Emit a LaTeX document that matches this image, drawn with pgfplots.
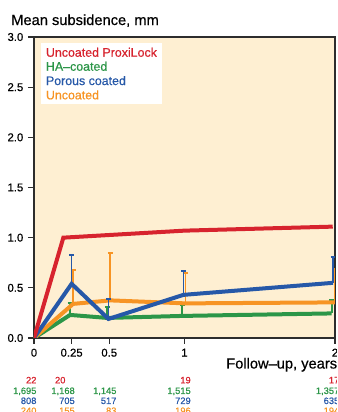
\documentclass[border=0pt]{standalone}
\usepackage{pgfplots}
\pgfplotsset{compat=1.18}
\usepackage{fontspec}
\setmainfont{Liberation Sans}[FakeBold=0.5]
\newfontfamily\medfont{Liberation Sans}[FakeBold=0.5]
\definecolor{cred}{RGB}{215,35,46}
\definecolor{cgreen}{RGB}{44,150,72}
\definecolor{cblue}{RGB}{38,88,168}
\definecolor{corange}{RGB}{247,148,36}
\definecolor{bg}{RGB}{254,239,210}
\definecolor{frame}{RGB}{45,45,45}

\pgfplotstableread{
x y e
0 0 0
0.24 0.23 0.12
0.487 0.20 0.11
0.985 0.22 0.11
1.978 0.245 0.135
}\greendata
\pgfplotstableread{
x y e
0 0 0
0.26 0.34 0.34
0.507 0.375 0.475
1.006 0.345 0.30
2.0 0.355 0.335
}\orangedata
\pgfplotstableread{
x y e
0 0 0
0.25 0.54 0.285
0.495 0.19 0.20
0.993 0.43 0.235
1.987 0.55 0.26
}\bluedata
\pgfplotstableread{
x y
0 0
0.195 1.0
1.0 1.07
1.985 1.11
}\reddata

\begin{document}
\begin{tikzpicture}
\useasboundingbox (0pt,0pt) rectangle (252.75pt,309pt);
\clip (0pt,0pt) rectangle (252.75pt,309pt);
\begin{axis}[
  at={(25.5pt,55.5pt)}, anchor=south west,
  scale only axis, width=225.75pt, height=225.75pt,
  xmin=0, xmax=2, ymin=0, ymax=3,
  axis background/.style={fill=bg},
  axis line style={frame, line width=0.9pt},
  xtick={0,0.25,0.5,1,2}, xticklabels={0,0.25,0.5,1,2},
  ytick={0,0.5,1,1.5,2,2.5,3}, yticklabels={0.0,0.5,1.0,1.5,2.0,2.5,3.0},
  tick align=outside, major tick length=4.5pt,
  tick style={frame, line width=0.8pt},
  xtick pos=bottom, ytick pos=left,
  ticklabel style={font=\medfont\fontsize{8.5}{10}\selectfont},
  error bars/error bar style={line width=1.3pt},
  error bars/error mark options={rotate=90, mark size=1.8pt, line width=1.8pt},
]
\addplot[cgreen, line width=3pt, error bars/.cd, y dir=plus, y explicit] table[x=x,y=y,y error=e]{\greendata};
\addplot[corange, line width=3pt, error bars/.cd, y dir=plus, y explicit] table[x=x,y=y,y error=e]{\orangedata};
\addplot[cblue, line width=3pt, error bars/.cd, y dir=plus, y explicit] table[x=x,y=y,y error=e]{\bluedata};
\addplot[cred, line width=3pt] table[x=x,y=y]{\reddata};
\end{axis}
\begin{scope}[x=0.75pt,y=0.75pt]
% title
\node[anchor=base west, inner sep=0, font=\medfont\fontsize{11}{13}\selectfont] at (11,412-25) {Mean subsidence, mm};
% legend
\fill[white] (40.7,412-43.3) rectangle (161.7,412-104);
\begin{scope}[every node/.style={anchor=west, inner sep=0, font=\medfont\fontsize{9.3}{11}\selectfont}]
\node[text=cred] at (45.7,412-52.3) {Uncoated ProxiLock};
\node[text=cgreen] at (45.7,412-66.3) {HA–coated};
\node[text=cblue] at (45.7,412-80.6) {Porous coated};
\node[text=corange] at (45.7,412-94.9) {Uncoated};
\end{scope}
% x label
\node[anchor=base west, inner sep=0, font=\medfont\fontsize{11}{13}\selectfont] at (226,412-368.5) {Follow–up, years};
% counts
\begin{scope}[every node/.style={anchor=base east, inner sep=0, font=\medfont\fontsize{7}{8}\selectfont}]
\node[text=cred] at (36.7,412-383.4) {22};
\node[text=cred] at (65.7,412-383.4) {20};
\node[text=cred] at (191,412-383.4) {19};
\node[text=cred] at (339.5,412-383.4) {17};
\node[text=cgreen] at (36.7,412-394) {1,695};
\node[text=cgreen] at (75,412-394) {1,168};
\node[text=cgreen] at (116.7,412-394) {1,145};
\node[text=cgreen] at (191,412-394) {1,515};
\node[text=cgreen] at (339.5,412-394) {1,357};
\node[text=cblue] at (36.7,412-404) {808};
\node[text=cblue] at (75,412-404) {705};
\node[text=cblue] at (116.7,412-404) {517};
\node[text=cblue] at (191,412-404) {729};
\node[text=cblue] at (339.5,412-404) {635};
\node[text=corange] at (36.7,412-414) {240};
\node[text=corange] at (75,412-414) {155};
\node[text=corange] at (116.7,412-414) {83};
\node[text=corange] at (191,412-414) {196};
\node[text=corange] at (339.5,412-414) {194};
\end{scope}
\end{scope}
\end{tikzpicture}
\end{document}
